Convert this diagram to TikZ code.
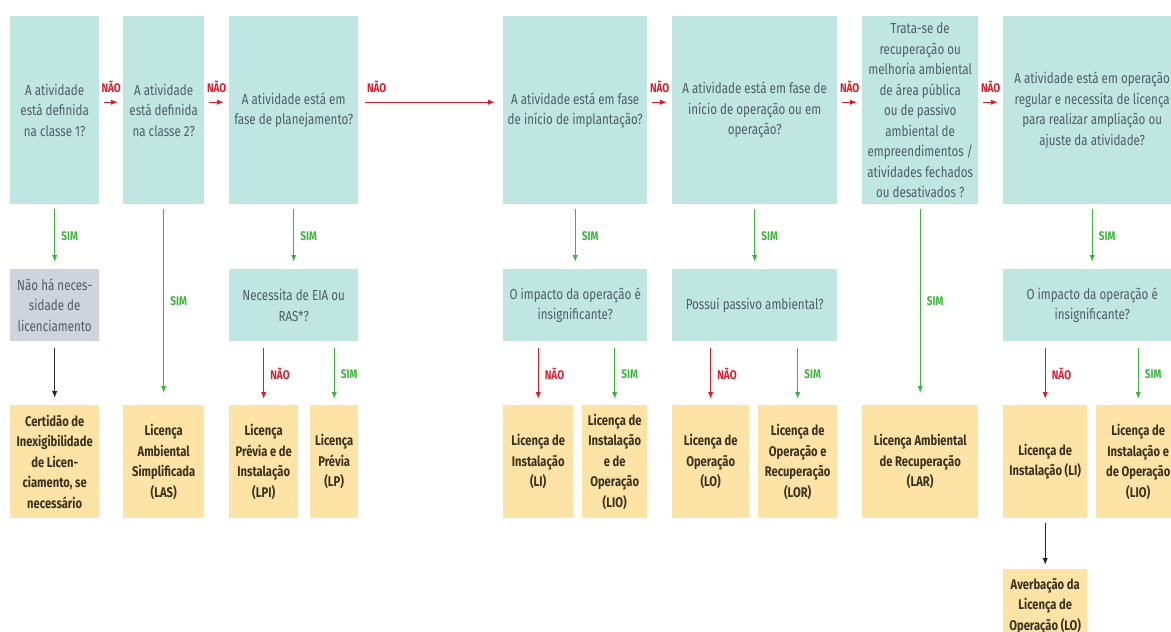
\documentclass[tikz,border=0pt]{standalone}
\usepackage{fontspec}
\setmainfont{Fira Sans}[FakeStretch=0.8]
\usepackage{xcolor}
\usepackage{tikz}
\usetikzlibrary{calc}
\usetikzlibrary{arrows.meta}

\definecolor{boxteal}{HTML}{C0E6E1}
\definecolor{boxgray}{HTML}{CFD3DC}
\definecolor{boxorange}{HTML}{FDE3A5}
\definecolor{qtext}{HTML}{4F5D66}
\definecolor{ltext}{HTML}{3A3120}
\definecolor{naored}{HTML}{D3202E}
\definecolor{simgreen}{HTML}{3DB43D}

\tikzset{
	question/.style={rectangle, anchor=north west, fill=boxteal, text=qtext, align=center, inner sep=1pt, font=\fontsize{14.5}{20.5}\selectfont},
	nolicence/.style={question, fill=boxgray},
	licence/.style={rectangle, anchor=north west, fill=boxorange, text=ltext, align=center, inner sep=1pt, font=\fontsize{14}{20.5}\selectfont\bfseries},
	naoline/.style={->, draw=naored, line width=1.3pt},
	simline/.style={->, draw=simgreen, line width=1.3pt},
	blackline/.style={->, draw=black!85, line width=1.3pt},
	naolabel/.style={text=naored, inner sep=1pt, font=\fontsize{12.5}{14}\selectfont\bfseries},
	simlabel/.style={text=simgreen, inner sep=1pt, font=\fontsize{12.5}{14}\selectfont\bfseries},
}

\begin{document}
\begin{tikzpicture}[x=1pt, y=-1pt, >={Latex[length=7pt,width=5.5pt]}]
		\useasboundingbox (0,0) rectangle (1171,632);
		\clip (0,0) rectangle (1171,632);

		%elements - first row
		\node [question] at (10,16) (q1) [minimum width=89pt, minimum height=188pt] {A atividade\\está definida\\na classe 1?};
		\node [question] at (123,16) (q2) [minimum width=81pt, minimum height=188pt] {A atividade\\está definida\\na classe 2?};
		\node [question] at (229,16) (q3) [minimum width=129pt, minimum height=188pt] {A atividade está em\\fase de planejamento?};
		\node [question] at (503,16) (q4) [minimum width=144pt, minimum height=188pt] {A atividade está em fase\\de início de implantação?};
		\node [question] at (672,16) (q5) [minimum width=165pt, minimum height=188pt] {A atividade está em fase de\\início de operação ou em\\operação?};
		\node [question] at (862,16) (q6) [minimum width=116pt, minimum height=188pt] {Trata-se de\\recuperação ou\\melhoria ambiental\\de área pública\\ou de passivo\\ambiental de\\empreendimentos /\\atividades fechados\\ou desativados ?};
		\node [question] at (1003,16) (q7) [minimum width=178pt, minimum height=188pt] {A atividade está em operação\\regular e necessita de licença\\para realizar ampliação ou\\ajuste da atividade?};

		%elements - second row
		\node [nolicence] at (10,269) (g1) [minimum width=89pt, minimum height=72pt] {Não há neces-\\sidade de\\licenciamento};
		\node [question] at (229,269) (q3b) [minimum width=129pt, minimum height=72pt] {Necessita de EIA ou\\RAS*?};
		\node [question] at (503,269) (q4b) [minimum width=144pt, minimum height=72pt] {O impacto da operação é\\insignificante?};
		\node [question] at (672,269) (q5b) [minimum width=165pt, minimum height=72pt] {Possui passivo ambiental?};
		\node [question] at (1003,269) (q7b) [minimum width=178pt, minimum height=72pt] {O impacto da operação é\\insignificante?};

		%elements - licences
		\node [licence] at (10,405) (l1) [minimum width=89pt, minimum height=113pt] {Certidão de\\Inexigibilidade\\de Licen-\\ciamento, se\\necessário};
		\node [licence] at (123,405) (l2) [minimum width=81pt, minimum height=113pt] {Licença\\Ambiental\\Simplificada\\(LAS)};
		\node [licence] at (229,405) (lpi) [minimum width=69pt, minimum height=113pt] {Licença\\Prévia e de\\Instalação\\(LPI)};
		\node [licence] at (310,405) (lp) [minimum width=48pt, minimum height=113pt] {Licença\\Prévia\\(LP)};
		\node [licence] at (503,405) (li) [minimum width=70pt, minimum height=113pt] {Licença de\\Instalação\\(LI)};
		\node [licence] at (582,405) (lio) [minimum width=65pt, minimum height=113pt] {Licença de\\Instalação\\e de\\Operação\\(LIO)};
		\node [licence] at (672,405) (lo) [minimum width=77pt, minimum height=113pt] {Licença de\\Operação\\(LO)};
		\node [licence] at (758,405) (lor) [minimum width=79pt, minimum height=113pt] {Licença de\\Operação e\\Recuperação\\(LOR)};
		\node [licence] at (862,405) (lar) [minimum width=116pt, minimum height=113pt] {Licença Ambiental\\de Recuperação\\(LAR)};
		\node [licence] at (1003,405) (li2) [minimum width=84pt, minimum height=113pt] {Licença de\\Instalação (LI)};
		\node [licence] at (1096,405) (lio2) [minimum width=84pt, minimum height=113pt] {Licença de\\Instalação e\\de Operação\\(LIO)};
		\node [licence] at (1003,569) (av) [minimum width=84pt, minimum height=74pt] {Averbação da\\Licença de\\Operação (LO)};

		%arrows - NAO along the top
		\draw [naoline] ([xshift=5pt,yshift=8pt]q1.east) -- ([xshift=-5pt,yshift=8pt]q2.west) node [naolabel, midway, above=8pt] {NÃO};
		\draw [naoline] ([xshift=5pt,yshift=8pt]q2.east) -- ([xshift=-5pt,yshift=8pt]q3.west) node [naolabel, midway, above=8pt] {NÃO};
		\draw [naoline] ([xshift=7pt,yshift=8pt]q3.east) -- ([xshift=-8pt,yshift=8pt]q4.west) node [naolabel, pos=0, anchor=south west, yshift=8pt] {NÃO};
		\draw [naoline] ([xshift=5pt,yshift=8pt]q4.east) -- ([xshift=-5pt,yshift=8pt]q5.west) node [naolabel, midway, above=8pt] {NÃO};
		\draw [naoline] ([xshift=5pt,yshift=8pt]q5.east) -- ([xshift=-5pt,yshift=8pt]q6.west) node [naolabel, midway, above=8pt] {NÃO};
		\draw [naoline] ([xshift=5pt,yshift=8pt]q6.east) -- ([xshift=-5pt,yshift=8pt]q7.west) node [naolabel, midway, above=8pt] {NÃO};

		%arrows - down
		\draw [simline] ([yshift=-5pt]q1.south) -- ([yshift=7pt]g1.north) node [simlabel, midway, right=5pt] {SIM};
		\draw [blackline] ([yshift=-7pt]g1.south) -- ([yshift=7pt]l1.north);
		\draw [simline] ([yshift=-5pt]q2.south) -- ([yshift=12pt]l2.north) node [simlabel, midway, right=5pt] {SIM};
		\draw [simline] ([yshift=-5pt]q3.south) -- ([yshift=7pt]q3b.north) node [simlabel, midway, right=5pt] {SIM};
		\draw [naoline] ([yshift=-7pt]q3b.south -| lpi.north) -- ([yshift=6pt]lpi.north) node [naolabel, midway, right=5pt] {NÃO};
		\draw [simline] ([yshift=-7pt]q3b.south -| lp.north) -- ([yshift=6pt]lp.north) node [simlabel, midway, right=5pt] {SIM};
		\draw [simline] ([yshift=-5pt]q4.south) -- ([yshift=7pt]q4b.north) node [simlabel, midway, right=5pt] {SIM};
		\draw [naoline] ([yshift=-7pt]q4b.south -| li.north) -- ([yshift=6pt]li.north) node [naolabel, midway, right=5pt] {NÃO};
		\draw [simline] ([yshift=-7pt]q4b.south -| lio.north) -- ([yshift=6pt]lio.north) node [simlabel, midway, right=5pt] {SIM};
		\draw [simline] ([yshift=-5pt]q5.south) -- ([yshift=7pt]q5b.north) node [simlabel, midway, right=5pt] {SIM};
		\draw [naoline] ([yshift=-7pt]q5b.south -| lo.north) -- ([yshift=6pt]lo.north) node [naolabel, midway, right=5pt] {NÃO};
		\draw [simline] ([yshift=-7pt]q5b.south -| lor.north) -- ([yshift=6pt]lor.north) node [simlabel, midway, right=5pt] {SIM};
		\draw [simline] ([yshift=-5pt]q6.south) -- ([yshift=12pt]lar.north) node [simlabel, midway, right=5pt] {SIM};
		\draw [simline] ([yshift=-5pt]q7.south) -- ([yshift=7pt]q7b.north) node [simlabel, midway, right=5pt] {SIM};
		\draw [naoline] ([yshift=-7pt]q7b.south -| li2.north) -- ([yshift=6pt]li2.north) node [naolabel, midway, right=5pt] {NÃO};
		\draw [simline] ([yshift=-7pt]q7b.south -| lio2.north) -- ([yshift=6pt]lio2.north) node [simlabel, midway, right=5pt] {SIM};
		\draw [blackline] ([yshift=-5pt]li2.south) -- ([yshift=4pt]av.north);
\end{tikzpicture}
\end{document}
